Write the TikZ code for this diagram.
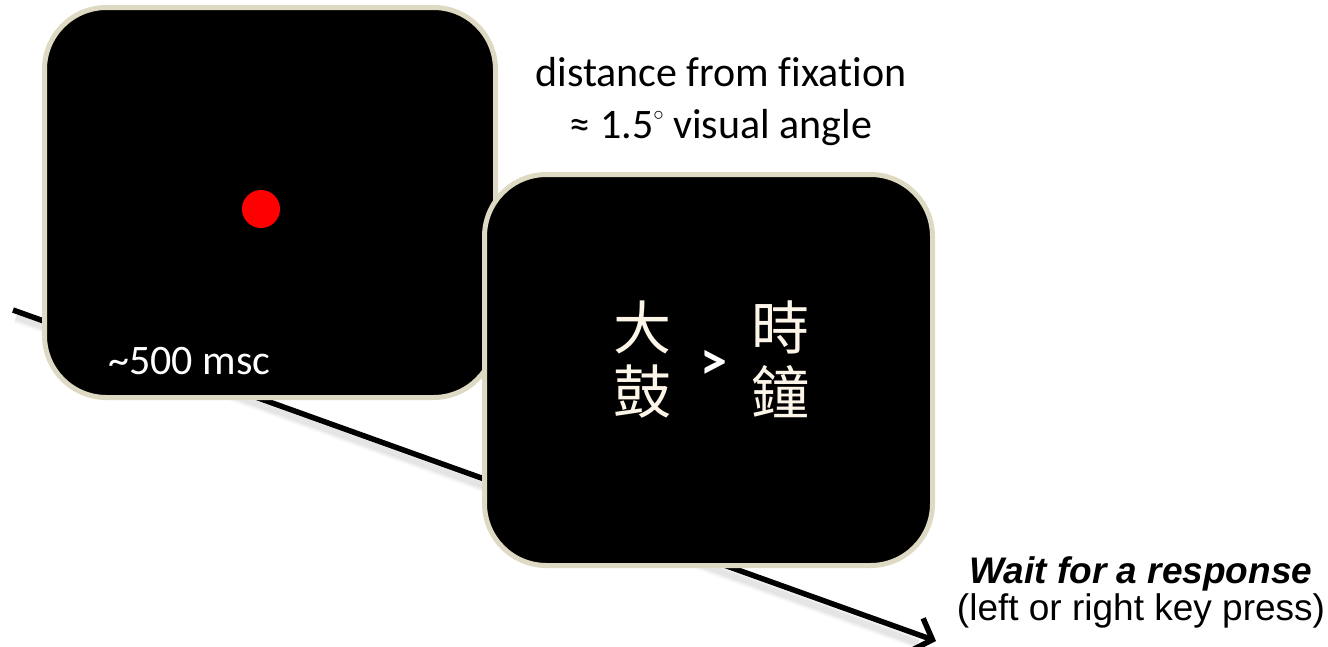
\documentclass[tikz,border=0pt]{standalone}
\usepackage{fontspec}
\setmainfont{Carlito}[Ligatures=NoCommon]
\newfontfamily\armfont{Liberation Sans}
\newfontfamily\cjkfont{Noto Sans CJK TC}
\usetikzlibrary{arrows.meta,calc}
\definecolor{FrameClr}{rgb}{0.867,0.851,0.765}
\definecolor{DotClr}{rgb}{1,0,0}
\definecolor{GlyphClr}{rgb}{0.99,0.96,0.91}
\definecolor{ShadowClr}{rgb}{0.55,0.55,0.55}

\begin{document}
\begin{tikzpicture}[x=1pt,y=-1pt,
  screen/.style={draw=FrameClr,line width=5pt,fill=black,rounded corners=62pt,
    inner sep=0pt,outer sep=0pt},
  hanzi/.style={text=GlyphClr,font=\cjkfont\fontsize{58}{60}\selectfont,inner sep=0pt},
  note/.style={align=center,inner sep=0pt}]
\useasboundingbox (0,0) rectangle (1328,646);

\coordinate (tstart) at (13,310);
\coordinate (tend) at (936,641);

% time line, with a soft shadow
\foreach \w/\o in {12/0.06,9/0.08,6/0.10}
  \draw[ShadowClr,opacity=\o,line width=\w pt] ($(tstart)+(3,7)$) -- ($(tend)+(-18,2)$);
\draw[line width=5.5pt,-{Straight Barb[length=16pt,width=34pt]}] (tstart) -- (tend);

% fixation screen
\node[screen,minimum width=451pt,minimum height=390pt] (fixscreen) at (270,202.5) {};
\fill[DotClr] (261,209) circle (19pt) coordinate (fixdot);
\node[anchor=base west,text=white,font=\fontsize{42}{50}\selectfont,inner sep=0pt]
  (duration) at (108,374) {\textasciitilde500 msc};

% stimulus screen
\node[screen,minimum width=448pt,minimum height=391pt] (stimscreen) at (708.5,370) {};
\node[hanzi] (da) at (642,327) {大};
\node[hanzi] (gu) at (642,392) {鼓};
\node[hanzi] (shi) at (780,327) {時};
\node[hanzi] (zhong) at (780,392) {鐘};
\node[text=white,font=\bfseries\fontsize{54}{54}\selectfont,inner sep=0pt] (gt) at (714,365) {>};

% labels
\node[note,font=\fontsize{42}{52}\selectfont] (dist) at (721,102)
  {distance from fixation\\ ≈ 1.5\raisebox{0.9ex}[0pt][0pt]{\fontsize{22}{22}\selectfont$\circ$} visual angle};
\node[note,font=\armfont\fontsize{37}{37}\selectfont] (resp) at (1141,592)
  {\textbf{\textit{Wait for a response}}\\(left or right key press)};

\end{tikzpicture}
\end{document}
